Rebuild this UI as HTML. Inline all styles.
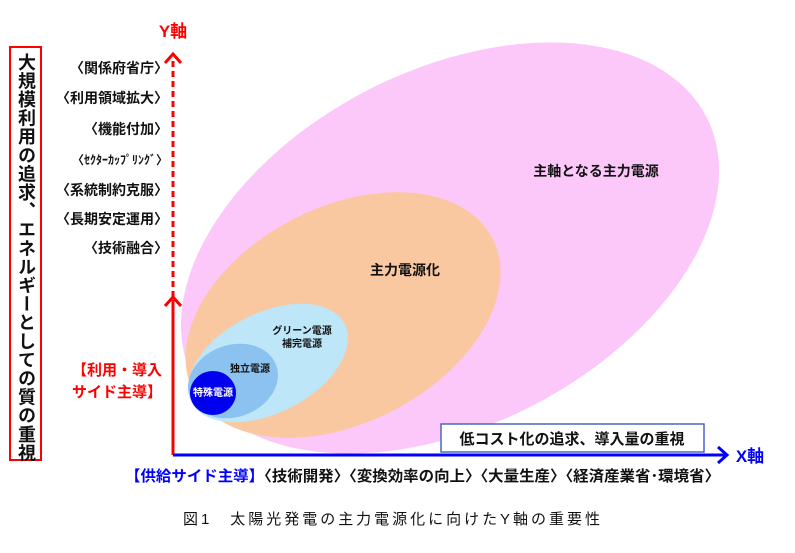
<!DOCTYPE html>
<html><head><meta charset="utf-8"><style>
body{margin:0;background:#fff;}
svg{display:block;font-family:"Liberation Sans","Noto Sans CJK JP",sans-serif;}
</style></head><body>
<svg width="795" height="553" viewBox="0 0 795 553" xmlns="http://www.w3.org/2000/svg">
<ellipse cx="450" cy="248" rx="288" ry="178" transform="rotate(-27 450 248)" fill="#fcc8fa"/>
<ellipse cx="343" cy="315" rx="168" ry="108" transform="rotate(-27 343 315)" fill="#f9c8a0"/>
<ellipse cx="268" cy="363" rx="86" ry="50" transform="rotate(-27 268 363)" fill="#bde6f8"/>
<ellipse cx="233" cy="381" rx="46" ry="36" transform="rotate(-20 233 381)" fill="#8cc2f0"/>
<ellipse cx="213" cy="393" rx="23" ry="22" fill="#0000ee"/>
<g font-weight="bold" fill="#111">
<text x="596" y="176" font-size="14" text-anchor="middle">主軸となる主力電源</text>
<text x="405" y="275" font-size="14" text-anchor="middle">主力電源化</text>
<text x="302" y="334" font-size="10" text-anchor="middle">グリーン電源</text>
<text x="302" y="347" font-size="10" text-anchor="middle">補完電源</text>
<text x="250" y="372" font-size="10" text-anchor="middle">独立電源</text>
<text x="213" y="396" font-size="10" text-anchor="middle" fill="#fff">特殊電源</text>
</g>
<line x1="173" y1="455" x2="173" y2="300" stroke="#f00" stroke-width="3"/>
<polyline points="165,306 173,297 181,306" fill="none" stroke="#f00" stroke-width="3"/>
<line x1="173" y1="297" x2="173" y2="60" stroke="#f00" stroke-width="3" stroke-dasharray="6,4"/>
<polyline points="165,63 173,54 181,63" fill="none" stroke="#f00" stroke-width="3"/>
<line x1="173" y1="455" x2="726" y2="455" stroke="#00f" stroke-width="3"/>
<polyline points="718,447 727,455 718,463" fill="none" stroke="#00f" stroke-width="3"/>
<text x="173" y="37" font-size="17" font-weight="bold" fill="#f00" text-anchor="middle">Y軸</text>
<text x="750" y="462" font-size="17" font-weight="bold" fill="#00f" text-anchor="middle">X軸</text>
<rect x="10" y="47" width="31" height="413" fill="none" stroke="#f00" stroke-width="2"/>
<text x="26" y="53" font-size="18" font-weight="bold" fill="#111" style="writing-mode:vertical-rl;letter-spacing:0.6px" text-anchor="start">大規模利用の追求、エネルギーとしての質の重視</text>
<g font-size="14" font-weight="bold" fill="#111" text-anchor="end">
<text x="168" y="73">〈関係府省庁〉</text>
<text x="168" y="103">〈利用領域拡大〉</text>
<text x="168" y="134">〈機能付加〉</text>
<text x="168" y="164" font-size="12">〈ｾｸﾀｰｶｯﾌﾟﾘﾝｸﾞ〉</text>
<text x="168" y="195">〈系統制約克服〉</text>
<text x="168" y="224">〈長期安定運用〉</text>
<text x="168" y="253">〈技術融合〉</text>
</g>
<g font-size="15" font-weight="bold" fill="#f00" text-anchor="end">
<text x="162" y="375">【利用・導入</text>
<text x="162" y="397">サイド主導】</text>
</g>
<rect x="441" y="424" width="263" height="28" fill="#fff" stroke="#4a66c8" stroke-width="1.5"/>
<text x="572" y="444" font-size="15" font-weight="bold" fill="#111" text-anchor="middle">低コスト化の追求、導入量の重視</text>
<text x="125" y="481" font-size="15" font-weight="bold" fill="#00f" textLength="595" lengthAdjust="spacingAndGlyphs">【供給サイド主導】<tspan fill="#111">〈技術開発〉〈変換効率の向上〉〈大量生産〉〈経済産業省･環境省〉</tspan></text>
<text x="183" y="524" font-size="15" fill="#111" textLength="417" lengthAdjust="spacing">図1　太陽光発電の主力電源化に向けたY軸の重要性</text>
</svg>
</body></html>
